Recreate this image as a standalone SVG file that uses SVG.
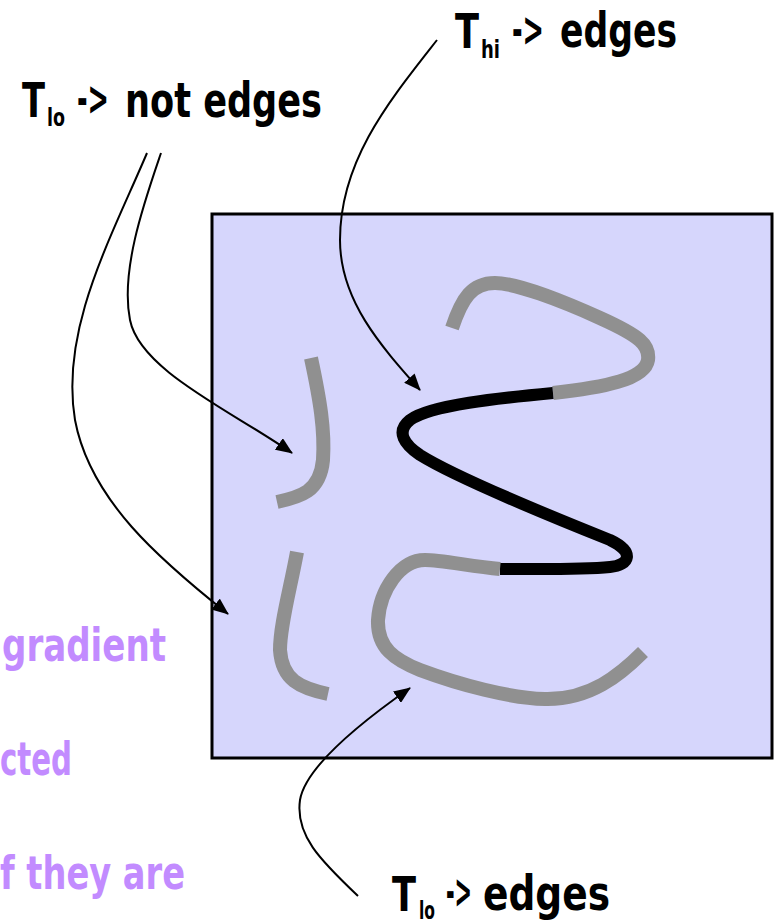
<svg xmlns="http://www.w3.org/2000/svg" width="781" height="924" viewBox="0 0 781 924">
<defs>
<marker id="ah" markerUnits="userSpaceOnUse" markerWidth="18" markerHeight="14" refX="16" refY="7" orient="auto">
<path d="M0,0 L17,7 L0,14 Z" fill="#000"/>
</marker>
<style>
.lbl{font-family:"DejaVu Sans Condensed","DejaVu Sans",sans-serif;font-weight:bold;fill:#000;font-size:48px}
.sub{font-size:25px}
.note{font-family:"DejaVu Sans Condensed","DejaVu Sans",sans-serif;font-weight:bold;font-size:46px;fill:#c28bff}
.gray{fill:none;stroke:#909090;stroke-width:14;stroke-linecap:butt}
.blk{fill:none;stroke:#000;stroke-width:12;stroke-linecap:butt}
.conn{fill:none;stroke:#000;stroke-width:2;marker-end:url(#ah)}
</style>
</defs>
<rect width="781" height="924" fill="#fff"/>
<g id="notes">
<text class="note" x="2" y="661" textLength="164" lengthAdjust="spacingAndGlyphs">gradient</text>
<text class="note" x="0" y="775" textLength="72" lengthAdjust="spacingAndGlyphs">cted</text>
<text class="note" x="0" y="889" textLength="185" lengthAdjust="spacingAndGlyphs">f they are</text>
</g>
<g id="image">
<rect x="212" y="214" width="560" height="544" fill="#d6d6fc" stroke="#000" stroke-width="3"/>
<path class="gray" d="M311,358 C320,400 325,430 323,460 C320,492 300,497 277,502"/>
<path class="gray" d="M297,552 C290,590 280,625 280,650 C282,680 300,688 328,694"/>
<path class="gray" d="M452,328 C462,298 472,283 495,283 C515,283 560,300 600,318 C640,336 650,345 648,360 C645,380 600,388 553,393"/>
<path class="blk" d="M553,393 C500,398 430,405 410,420 C395,432 405,445 420,455 C460,480 560,520 610,540 C635,552 630,565 610,567 C580,570 530,569 500,569"/>
<path class="gray" d="M500,569 C470,566 440,560 425,560 C400,560 380,590 378,620 C377,648 395,660 420,670 C460,685 510,698 545,699 C590,700 620,675 643,652"/>
</g>
<g id="label-thi">
<text class="lbl" y="48"><tspan x="455" textLength="24" lengthAdjust="spacingAndGlyphs">T</tspan><tspan class="sub" x="481" y="58" textLength="19" lengthAdjust="spacingAndGlyphs">hi</tspan><tspan x="512" y="46" textLength="32" lengthAdjust="spacingAndGlyphs">-&gt;</tspan><tspan x="560" y="47" textLength="117" lengthAdjust="spacingAndGlyphs">edges</tspan></text>
</g>
<g id="label-tlo-not">
<text class="lbl" y="117"><tspan x="22" textLength="23" lengthAdjust="spacingAndGlyphs">T</tspan><tspan class="sub" x="47" y="126" textLength="18" lengthAdjust="spacingAndGlyphs">lo</tspan><tspan x="77" y="115" textLength="32" lengthAdjust="spacingAndGlyphs">-&gt;</tspan><tspan x="125" y="117" textLength="197" lengthAdjust="spacingAndGlyphs">not edges</tspan></text>
</g>
<g id="label-tlo-edges">
<text class="lbl" y="911"><tspan x="392" textLength="24" lengthAdjust="spacingAndGlyphs">T</tspan><tspan class="sub" x="419" y="919" textLength="16" lengthAdjust="spacingAndGlyphs">lo</tspan><tspan x="446" y="908" textLength="26" lengthAdjust="spacingAndGlyphs">-&gt;</tspan><tspan x="483" y="910" textLength="127" lengthAdjust="spacingAndGlyphs">edges</tspan></text>
</g>
<g id="connectors">
<path class="conn" d="M437,40 C390,100 340,160 340,240 C340,300 380,345 420,390"/>
<path class="conn" d="M161,153 C145,200 120,270 130,320 C140,370 230,410 292,453"/>
<path class="conn" d="M147,153 C110,240 60,330 75,420 C90,500 160,560 228,614"/>
<path class="conn" d="M358,896 C320,860 295,835 300,800 C305,770 350,730 410,688"/>
</g>
</svg>
